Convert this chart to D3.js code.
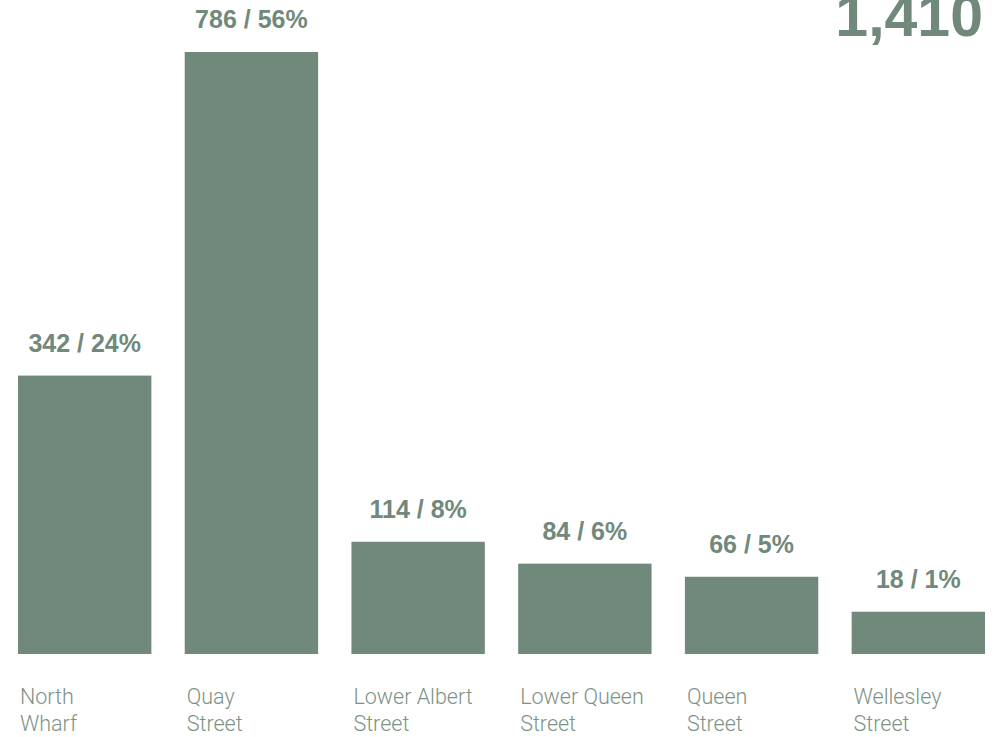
<!DOCTYPE html>
<html>
<head>
<meta charset="utf-8">
<script src="https://cdn.jsdelivr.net/npm/d3@7"></script>
<style>
  html, body { margin: 0; padding: 0; background: #ffffff; }
  svg { display: block; }
</style>
</head>
<body>
<svg id="chart" width="995" height="737"></svg>
<script>
// Car park occupancy by location
const locations = ["North Wharf", "Quay Street", "Lower Albert Street", "Lower Queen Street", "Queen Street", "Wellesley Street"];
const labelLines = [["North", "Wharf"], ["Quay", "Street"], ["Lower Albert", "Street"], ["Lower Queen", "Street"], ["Queen", "Street"], ["Wellesley", "Street"]];
const counts = [342, 786, 114, 84, 66, 18];
const shares = ["24%", "56%", "8%", "6%", "5%", "1%"];
const totalLabel = "1,410";

const W = 995, H = 737;
const colour = "#71897a";
const svg = d3.select("#chart");

const x = d3.scaleBand()
  .domain(locations)
  .range([18, 985])
  .paddingInner(0.2)
  .paddingOuter(0);

// bars rise from a floor slightly below zero so the smallest counts stay visible
const y = d3.scaleLinear()
  .domain([-40, d3.max(counts)])
  .range([654, 52]);

const rows = locations.map((name, i) => ({ name, lines: labelLines[i], value: counts[i], share: shares[i] }));

svg.append("g").selectAll("rect")
  .data(rows)
  .join("rect")
  .attr("x", d => x(d.name))
  .attr("y", d => y(d.value))
  .attr("width", x.bandwidth())
  .attr("height", d => y(y.domain()[0]) - y(d.value))
  .attr("fill", colour);

svg.append("g").selectAll("text")
  .data(rows)
  .join("text")
  .attr("x", d => x(d.name) + x.bandwidth() / 2)
  .attr("y", d => y(d.value) - 24)
  .attr("text-anchor", "middle")
  .attr("font-family", "'Liberation Sans', Arial, sans-serif")
  .attr("font-weight", "bold")
  .attr("font-size", 25)
  .attr("fill", colour)
  .text(d => `${d.value} / ${d.share}`);

const cat = svg.append("g").selectAll("text")
  .data(rows)
  .join("text")
  .attr("x", d => x(d.name) + 2)
  .attr("y", 704)
  .attr("font-family", "Roboto, 'Open Sans', sans-serif")
  .attr("font-weight", 300)
  .attr("font-size", 21.5)
  .attr("fill", "#7d9286");
cat.selectAll("tspan")
  .data(d => d.lines.map(t => ({ t, x: x(d.name) + 2 })))
  .join("tspan")
  .attr("x", d => d.x)
  .attr("dy", (d, i) => i === 0 ? 0 : 27)
  .text(d => d.t);

svg.append("text")
  .attr("x", 983)
  .attr("y", 36)
  .attr("text-anchor", "end")
  .attr("font-family", "'Liberation Sans', Arial, sans-serif")
  .attr("font-weight", "bold")
  .attr("font-size", 59)
  .attr("fill", colour)
  .text(totalLabel);
</script>
</body>
</html>
